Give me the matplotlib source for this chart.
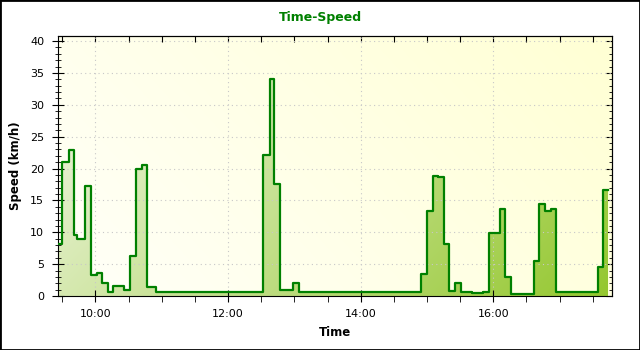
import matplotlib.pyplot as plt
import numpy as np
from matplotlib.ticker import MultipleLocator, FuncFormatter
from matplotlib.patches import Rectangle

# step samples: speed holds from each time to the next
times = ["09:26", "09:30", "09:36", "09:41", "09:43", "09:51", "09:56", "10:01",
         "10:06", "10:11", "10:16", "10:22", "10:26", "10:31", "10:37", "10:42",
         "10:47", "10:55", "12:32", "12:38", "12:42", "12:47", "12:59", "13:04",
         "14:55", "15:00", "15:05", "15:10", "15:15", "15:20", "15:25", "15:31",
         "15:36", "15:41", "15:51", "15:56", "16:06", "16:11", "16:16", "16:37",
         "16:41", "16:47", "16:52", "16:57", "17:35", "17:39", "17:44"]
speeds = [8.2, 21.1, 22.9, 9.5, 9.0, 17.3, 3.3, 3.6,
          2.1, 0.7, 1.6, 1.5, 0.9, 6.2, 20.0, 20.6,
          1.35, 0.55, 22.2, 34.1, 17.6, 0.9, 2.1, 0.65,
          3.5, 13.4, 18.9, 18.7, 8.1, 0.85, 2.0, 0.7,
          0.55, 0.4, 0.7, 9.9, 13.7, 3.0, 0.3, 5.5,
          14.5, 13.3, 13.6, 0.6, 4.6, 16.7]


def to_hours(s):
    h, m = s.split(":")
    return int(h) + int(m) / 60


x = np.array([to_hours(t) for t in times])
y = np.array(speeds + [speeds[-1]])

x0, x1 = 9.436, 17.79
y0, y1 = 0, 40.8

fig = plt.figure(figsize=(6.4, 3.5), dpi=100)
ax = fig.add_axes([58 / 640, 1 - 296 / 350, (612 - 58) / 640, (296 - 36) / 350])

# background gradient
gx, gy = np.meshgrid(np.linspace(0, 1, 300), np.linspace(0, 1, 150))
s = np.clip(0.7 * gx + 0.3 * gy, 0, 1)[..., None]
c0 = np.array([1.0, 1.0, 0.975])
c1 = np.array([1.0, 1.0, 0.83])
ax.imshow(c0 + (c1 - c0) * s, extent=[x0, x1, y0, y1], origin='lower',
          aspect='auto', zorder=0, interpolation='bilinear')

# gradient area under the curve
poly = ax.fill_between(x, y, step='post', facecolor='none', edgecolor='none')
s2 = np.clip(0.7 * gx + 0.3 * (1 - gy), 0, 1)[..., None]
f0 = np.array([0.95, 0.97, 0.91])
f1 = np.array([0.58, 0.78, 0.18])
im = ax.imshow(f0 + (f1 - f0) * s2, extent=[x0, x1, y0, y1], origin='lower',
               aspect='auto', zorder=1, interpolation='bilinear')
im.set_clip_path(poly.get_paths()[0], transform=ax.transData)

ax.step(x, y, where='post', color='#008000', lw=1.6, zorder=3)

ax.set_xlim(x0, x1)
ax.set_ylim(y0, y1)

ax.xaxis.set_major_locator(MultipleLocator(2))
ax.xaxis.set_minor_locator(MultipleLocator(0.5))
ax.xaxis.set_major_formatter(FuncFormatter(lambda v, p: "%02d:00" % int(round(v))))
ax.yaxis.set_major_locator(MultipleLocator(5))
ax.yaxis.set_minor_locator(MultipleLocator(1))

ax.grid(True, color='#c8c8c8', linestyle=(0, (1, 3)), lw=0.8, zorder=0.5)
ax.tick_params(axis='y', which='major', direction='inout', length=8, labelsize=8, pad=6)
ax.tick_params(axis='y', which='minor', direction='inout', length=4)
ax.tick_params(axis='x', which='major', direction='inout', length=9, labelsize=8, pad=5)
ax.tick_params(axis='x', which='minor', direction='out', length=4)

top = ax.secondary_xaxis('top')
top.xaxis.set_major_locator(MultipleLocator(0.5))
top.tick_params(direction='in', length=4, labeltop=False)
right = ax.secondary_yaxis('right')
right.yaxis.set_major_locator(MultipleLocator(5))
right.yaxis.set_minor_locator(MultipleLocator(1))
right.tick_params(which='major', direction='in', length=4, labelright=False)
right.tick_params(which='minor', direction='in', length=2)

fig.text(0.5, 1 - 17 / 350, "Time-Speed", ha='center', va='center',
         fontsize=9, fontweight='bold', color='#008000')
fig.text(335 / 640, 1 - 333 / 350, "Time", ha='center', va='center',
         fontsize=8.5, fontweight='bold')
fig.text(16 / 640, 1 - 166 / 350, "Speed (km/h)", ha='center', va='center',
         rotation=90, fontsize=8.5, fontweight='bold')

fig.patches.append(Rectangle((0, 0), 1, 1, transform=fig.transFigure,
                             fill=False, edgecolor='black', lw=2))

fig.savefig("out.png", dpi=100)
